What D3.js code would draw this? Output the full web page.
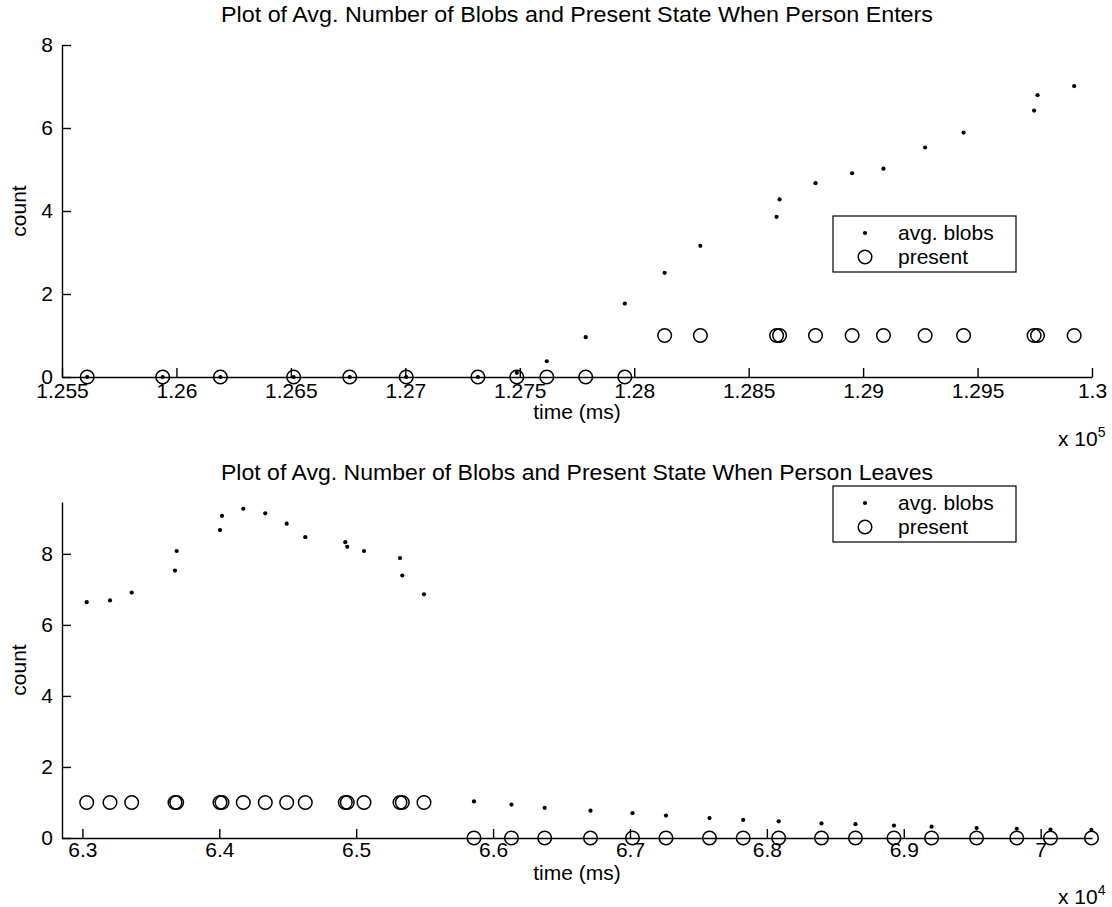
<!DOCTYPE html>
<html>
<head>
<meta charset="utf-8">
<script src="https://cdn.jsdelivr.net/npm/d3@7"></script>
<style>
  body { margin: 0; background: #fff; }
  svg { font-family: "Liberation Sans", Arial, Helvetica, sans-serif; }
  .axis text { font-size: 21px; fill: #000; }
  .axis path, .axis line { stroke: #000; stroke-width: 1.4; }
</style>
</head>
<body>
<div id="chart"></div>
<script>
// person enters (time in units of 1e5 ms)
var enterTime = [1.25610, 1.25940, 1.26192, 1.26512, 1.26757, 1.27004, 1.27317, 1.27487,
  1.27618, 1.27788, 1.27959, 1.28133, 1.28289, 1.28622, 1.28635, 1.28792, 1.28952,
  1.29089, 1.29271, 1.29439, 1.29747, 1.29762, 1.29922];
var enterBlobs = [0, 0, 0, 0, 0, 0, 0, 0.10, 0.38, 0.96, 1.77, 2.51, 3.16, 3.86, 4.28,
  4.67, 4.91, 5.02, 5.53, 5.89, 6.42, 6.79, 7.01];
var enterPresent = [0, 0, 0, 0, 0, 0, 0, 0, 0, 0, 0, 1, 1, 1, 1, 1, 1, 1, 1, 1, 1, 1, 1];
var enterTicks = [1.255, 1.26, 1.265, 1.27, 1.275, 1.28, 1.285, 1.29, 1.295, 1.3];
var enterTickLabels = ['1.255', '1.26', '1.265', '1.27', '1.275', '1.28', '1.285', '1.29', '1.295', '1.3'];

// person leaves (time in units of 1e4 ms)
var leaveTime = [6.30314, 6.32016, 6.33601, 6.36764, 6.36888, 6.40051, 6.40197, 6.41753,
  6.43360, 6.44923, 6.46282, 6.49204, 6.49350, 6.50570, 6.53200, 6.53368, 6.54953,
  6.58605, 6.61344, 6.63769, 6.67115, 6.70183, 6.72630, 6.75808, 6.78269, 6.80862,
  6.83989, 6.86472, 6.89284, 6.92031, 6.95318, 6.98254, 7.00716, 7.03711];
var leaveBlobs = [6.64, 6.69, 6.91, 7.53, 8.08, 8.67, 9.07, 9.27, 9.14, 8.85, 8.47, 8.33,
  8.20, 8.08, 7.88, 7.39, 6.86,
  1.03, 0.94, 0.85, 0.77, 0.70, 0.63, 0.56, 0.51, 0.47, 0.41, 0.39, 0.35, 0.32, 0.28,
  0.26, 0.24, 0.23];
var leavePresent = [1, 1, 1, 1, 1, 1, 1, 1, 1, 1, 1, 1, 1, 1, 1, 1, 1,
  0, 0, 0, 0, 0, 0, 0, 0, 0, 0, 0, 0, 0, 0, 0, 0, 0];
var leaveTicks = [6.3, 6.4, 6.5, 6.6, 6.7, 6.8, 6.9, 7];
var leaveTickLabels = ['6.3', '6.4', '6.5', '6.6', '6.7', '6.8', '6.9', '7'];

var yTicks = [0, 2, 4, 6, 8];
var seriesNames = ['avg. blobs', 'present'];

var width = 1112, height = 907;
var svg = d3.select('#chart').append('svg')
  .attr('width', width)
  .attr('height', height);

function drawPanel(opts) {
  var x = d3.scaleLinear().domain(opts.xDomain).range([62, 1092]);
  var y = d3.scaleLinear().domain(opts.yDomain).range([opts.bottom, opts.top]);
  var g = svg.append('g');

  var rows = opts.time.map(function(t, i) {
    return {t: t, blobs: opts.blobs[i], present: opts.present[i]};
  });

  g.append('g')
    .attr('class', 'axis')
    .attr('transform', 'translate(0,' + opts.bottom + ')')
    .call(d3.axisBottom(x).tickValues(opts.ticks)
      .tickFormat(function(d, i) { return opts.tickLabels[i]; })
      .tickSizeInner(-9).tickSizeOuter(0).tickPadding(opts.tickPad));

  g.append('g')
    .attr('class', 'axis')
    .attr('transform', 'translate(62,0)')
    .call(d3.axisLeft(y).tickValues(yTicks).tickFormat(d3.format('d'))
      .tickSizeInner(-9).tickSizeOuter(0).tickPadding(9));

  // present markers
  g.selectAll('.pres')
    .data(rows)
    .enter().append('circle')
    .attr('class', 'pres')
    .attr('cx', function(d) { return x(d.t); })
    .attr('cy', function(d) { return y(d.present); })
    .attr('r', 6.8)
    .attr('fill', 'none')
    .attr('stroke', '#000')
    .attr('stroke-width', 1.5);

  // avg blobs dots
  g.selectAll('.blob')
    .data(rows)
    .enter().append('circle')
    .attr('class', 'blob')
    .attr('cx', function(d) { return x(d.t); })
    .attr('cy', function(d) { return y(d.blobs); })
    .attr('r', 2.1)
    .attr('fill', '#000');

  g.append('text')
    .attr('x', 577).attr('y', opts.titleY)
    .attr('text-anchor', 'middle')
    .style('font-size', '22px')
    .attr('textLength', 712)
    .attr('lengthAdjust', 'spacingAndGlyphs')
    .text(opts.title);

  g.append('text')
    .attr('x', 577).attr('y', opts.bottom + 42)
    .attr('text-anchor', 'middle')
    .style('font-size', '21px')
    .text('time (ms)');

  var ex = g.append('text')
    .attr('x', 1058).attr('y', opts.expY)
    .style('font-size', '21px')
    .text('x 10');
  ex.append('tspan')
    .attr('dy', -9)
    .style('font-size', '14px')
    .text(opts.exponent);

  g.append('text')
    .attr('transform', 'translate(26,' + ((opts.top + opts.bottom) / 2) + ') rotate(-90)')
    .attr('text-anchor', 'middle')
    .style('font-size', '21px')
    .text('count');

  // legend
  var lg = g.append('g').attr('transform', 'translate(' + opts.legend[0] + ',' + opts.legend[1] + ')');
  lg.append('rect')
    .attr('width', 183).attr('height', 56)
    .attr('fill', '#fff').attr('stroke', '#000').attr('stroke-width', 1.2);
  lg.append('circle').attr('cx', 32).attr('cy', 17).attr('r', 2.1).attr('fill', '#000');
  lg.append('circle').attr('cx', 32).attr('cy', 41).attr('r', 6.8)
    .attr('fill', 'none').attr('stroke', '#000').attr('stroke-width', 1.5);
  lg.selectAll('.ltxt')
    .data(seriesNames)
    .enter().append('text')
    .attr('x', 65)
    .attr('y', function(d, i) { return 24 + i * 24; })
    .style('font-size', '21px')
    .text(function(d) { return d; });
}

drawPanel({
  title: 'Plot of Avg. Number of Blobs and Present State When Person Enters',
  time: enterTime, blobs: enterBlobs, present: enterPresent,
  ticks: enterTicks, tickLabels: enterTickLabels,
  xDomain: [1.255, 1.3], yDomain: [0, 8],
  top: 45, bottom: 377, titleY: 22, expY: 446, legend: [833, 216],
  tickPad: 6, exponent: '5'
});

drawPanel({
  title: 'Plot of Avg. Number of Blobs and Present State When Person Leaves',
  time: leaveTime, blobs: leaveBlobs, present: leavePresent,
  ticks: leaveTicks, tickLabels: leaveTickLabels,
  xDomain: [6.2851, 7.0375], yDomain: [0, 9.46],
  top: 502, bottom: 838, titleY: 480, expY: 904, legend: [833, 486],
  tickPad: 4, exponent: '4'
});
</script>
</body>
</html>
